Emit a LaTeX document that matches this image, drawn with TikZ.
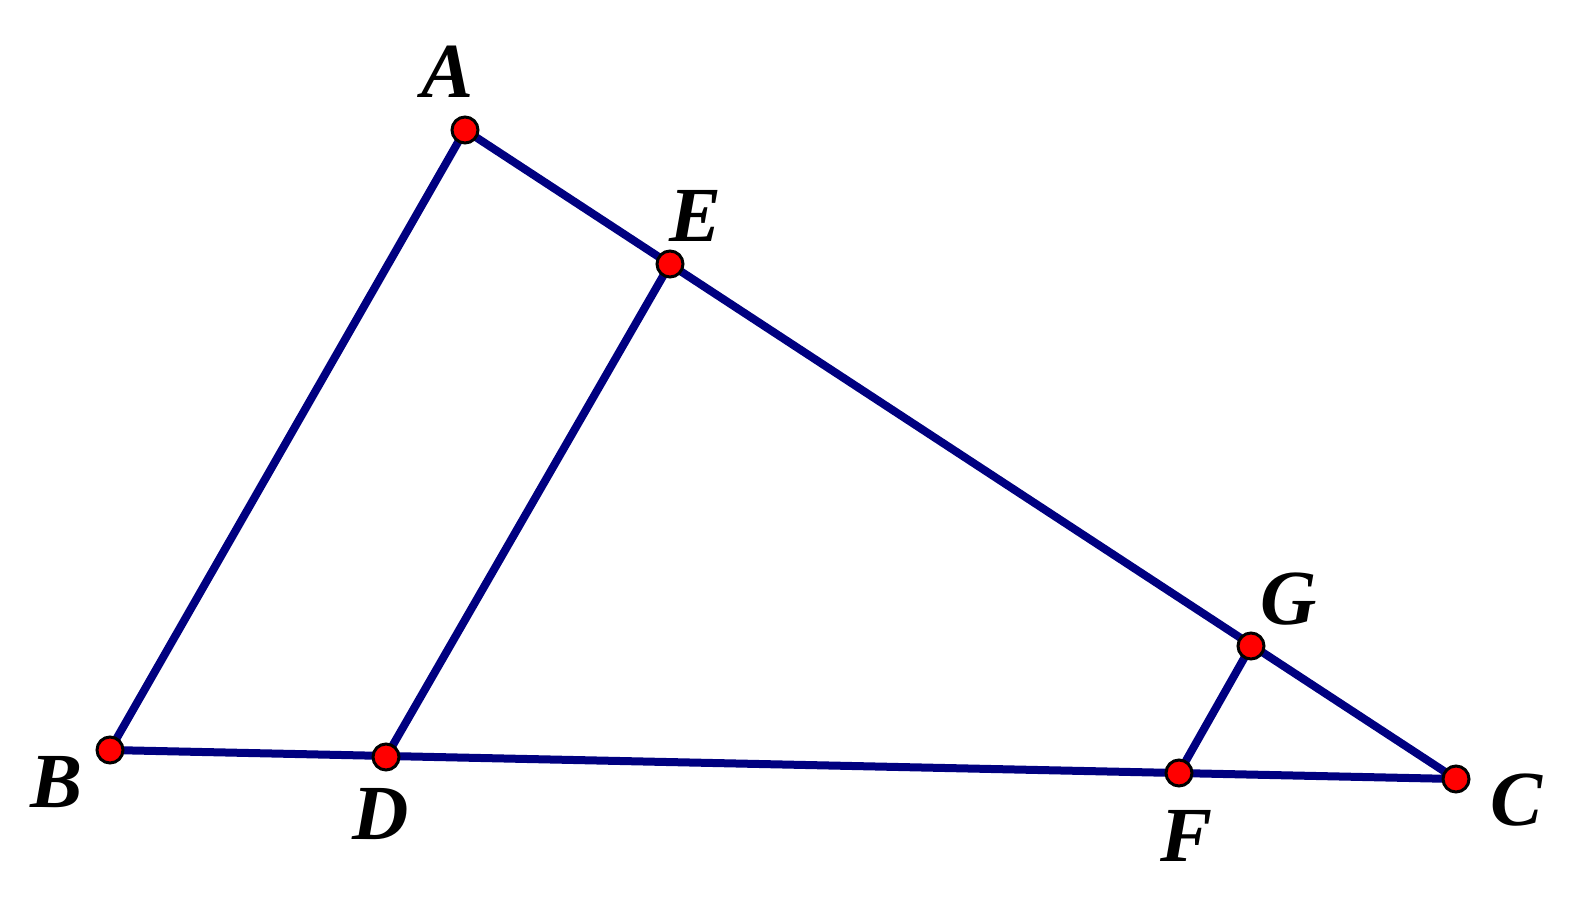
\documentclass[tikz,border=0pt]{standalone}
\usepackage{fontspec}
\setmainfont{Liberation Serif}
\definecolor{navy}{RGB}{0,0,128}
\begin{document}
\begin{tikzpicture}[x=1pt,y=-1pt,
  seg/.style={draw=navy,line width=8pt},
  pt/.style={circle,fill=red,draw=black,line width=3pt,minimum size=26pt,inner sep=0pt},
  lab/.style={inner sep=0pt,font=\fontsize{78}{82}\selectfont\bfseries\itshape}]
\useasboundingbox (0,0) rectangle (1579,914);
\coordinate (A) at (465,130);
\coordinate (B) at (110,750);
\coordinate (C) at (1456,779);
\coordinate (D) at (386,757);
\coordinate (E) at (670,264);
\coordinate (F) at (1179,773);
\coordinate (G) at (1251,646);
\draw[seg] (A) -- (B) -- (C) -- cycle;
\draw[seg] (D) -- (E);
\draw[seg] (F) -- (G);
\foreach \p in {A,B,C,D,E,F,G} \node[pt] (n\p) at (\p) {};
\node[lab] (lA) at (448,72) {A};
\node[lab] (lB) at (57,782) {B};
\node[lab] (lC) at (1516,800) {C};
\node[lab] (lD) at (381,814) {D};
\node[lab] (lE) at (696,216) {E};
\node[lab] (lF) at (1186,836) {F};
\node[lab] (lG) at (1289,599) {G};
\end{tikzpicture}
\end{document}
